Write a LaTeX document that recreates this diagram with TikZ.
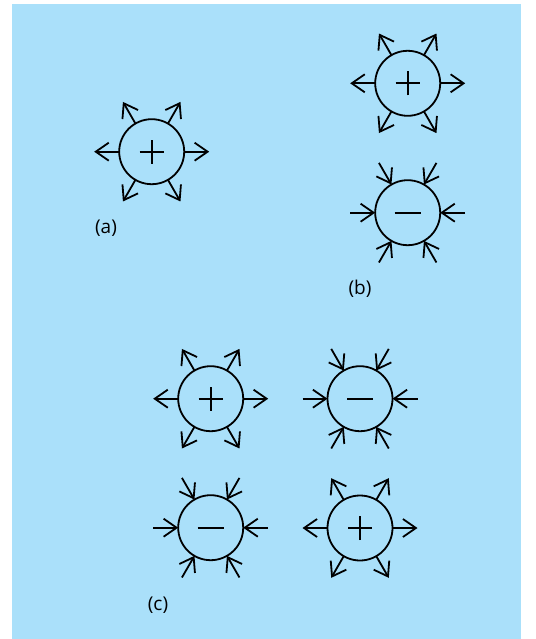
\documentclass[tikz,border=0pt]{standalone}
\usepackage{fontspec}
\setmainfont{Open Sans}
\usetikzlibrary{arrows.meta}
\definecolor{bgblue}{RGB}{170,224,250}
\tikzset{
  charge/.style={circle, draw, line width=1.8pt, minimum size=65pt, inner sep=0pt, outer sep=0pt},
  field/.style={line width=1.8pt, -{Straight Barb[length=13pt, width=18pt, line width=1.8pt]}},
  sign/.style={line width=1.8pt},
  lab/.style={font=\fontsize{19}{22}\selectfont, inner sep=0pt}
}
\newcommand\poscharge[2]{%
  \node[charge] (#1) at (#2) {};
  \draw[sign] ([xshift=-12pt]#1.center) -- ([xshift=12pt]#1.center);
  \draw[sign] ([yshift=-12pt]#1.center) -- ([yshift=12pt]#1.center);
  \foreach \a in {0,60,120,180,240,300} \draw[field] (#1.\a) -- ++(\a:25pt);
}
\newcommand\negcharge[2]{%
  \node[charge] (#1) at (#2) {};
  \draw[sign] ([xshift=-13pt]#1.center) -- ([xshift=13pt]#1.center);
  \foreach \a in {0,60,120,180,240,300} \draw[field] ([shift={(\a:25pt)}]#1.\a) -- (#1.\a);
}
\begin{document}
\begin{tikzpicture}[x=1pt,y=-1pt]
\useasboundingbox (0,0) rectangle (535,639);
\fill[bgblue] (12,4) rectangle (521,639);
\poscharge{a}{151.7,151.7}
\poscharge{b1}{407.7,83.3}
\negcharge{b2}{407.7,212.7}
\poscharge{c1}{210.7,398.7}
\negcharge{c2}{360,398.7}
\negcharge{c3}{210.7,527.7}
\poscharge{c4}{360,528}
\node[lab] (la) at (106,228) {(a)};
\node[lab] (lb) at (360,289) {(b)};
\node[lab] (lc) at (158,605) {(c)};
\end{tikzpicture}
\end{document}
